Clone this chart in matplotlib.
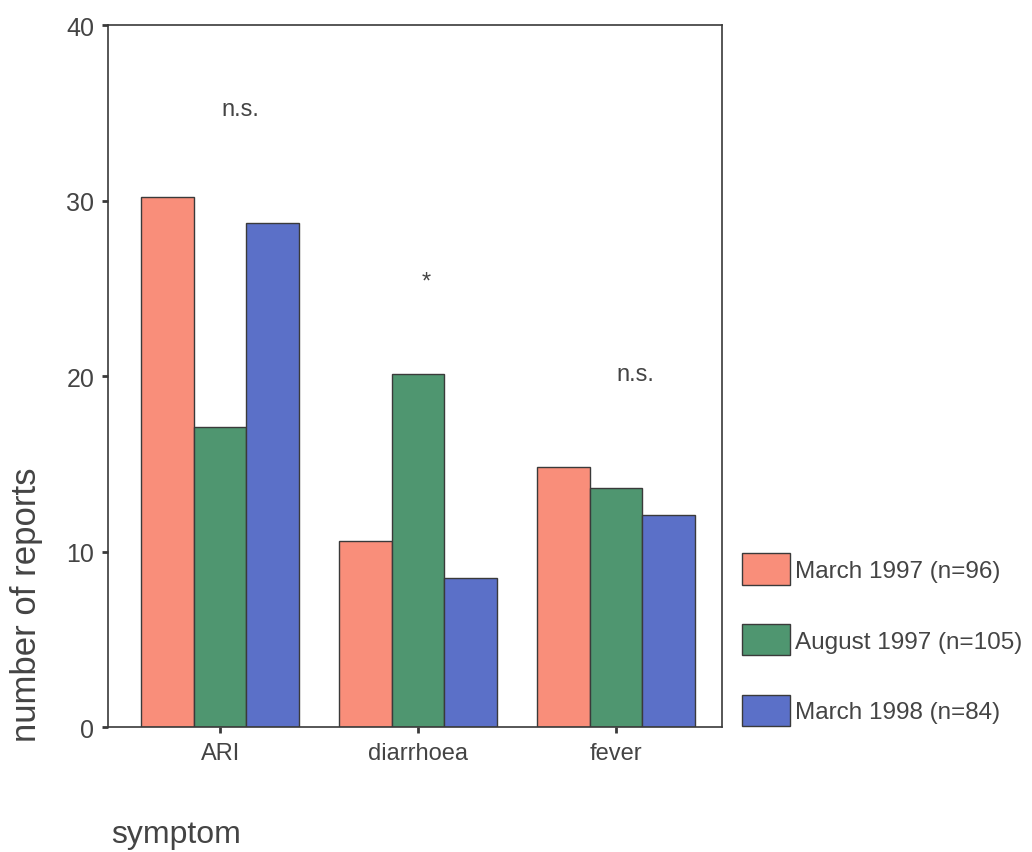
import matplotlib
matplotlib.use("Agg")
import matplotlib.pyplot as plt
import numpy as np

plt.rcParams['font.family'] = ['Liberation Sans', 'DejaVu Sans']

categories = ["ARI", "diarrhoea", "fever"]
series_labels = ["March 1997 (n=96)", "August 1997 (n=105)", "March 1998 (n=84)"]
march97 = [30.2, 10.6, 14.8]
august97 = [17.1, 20.1, 13.6]
march98 = [28.7, 8.5, 12.1]
annotations = ["n.s.", "*", "n.s."]
annot_y = [35.2, 25.4, 20.1]
yticks = [0, 10, 20, 30, 40]

colors = ["#F98E7A", "#4F9670", "#5B70C8"]
edge = "#3a3a3a"
tc = "#444444"

fig = plt.figure(figsize=(10.32, 8.53), dpi=100)
ax = fig.add_axes([0.1047, 0.1465, 0.5949, 0.8230])

x = np.arange(len(categories))
w = 0.265
handles = []
for i, (vals, c, lab) in enumerate(zip([march97, august97, march98], colors, series_labels)):
    h = ax.bar(x + (i - 1) * w, vals, width=w, color=c, edgecolor=edge, linewidth=1.0, label=lab)
    handles.append(h)

for xi, t, yv in zip(x, annotations, annot_y):
    ax.text(xi + (0.1 if t != "*" else 0.04), yv, t, ha='center', va='center', fontsize=17, color=tc)

ax.set_xlim(-0.566, 2.535)
ax.set_ylim(0, 40)
ax.set_yticks(yticks)
ax.set_yticklabels([str(v) for v in yticks], fontsize=18, color=tc)
ax.set_xticks(x)
ax.set_xticklabels(categories, fontsize=17, color=tc)
ax.tick_params(axis='y', direction='out', length=4, width=2, pad=6, color=edge)
ax.tick_params(axis='x', direction='out', length=4, width=2, pad=7, color=edge)
for s in ax.spines.values():
    s.set_color(edge)
    s.set_linewidth(1.2)

fig.text(0.026, 0.291, "number of reports", rotation=90, ha='center', va='center', fontsize=25, color=tc)
fig.text(0.171, 0.021, "symptom", ha='center', va='center', fontsize=23, color=tc)

fig.legend(handles=handles, labels=series_labels, loc='upper left', bbox_to_anchor=(0.719, 0.35),
           frameon=False, fontsize=17.5, handlelength=1.97, handleheight=1.6, labelspacing=1.62,
           handletextpad=0.2, borderaxespad=0, borderpad=0, labelcolor=tc)

fig.savefig("out.png", dpi=100)
